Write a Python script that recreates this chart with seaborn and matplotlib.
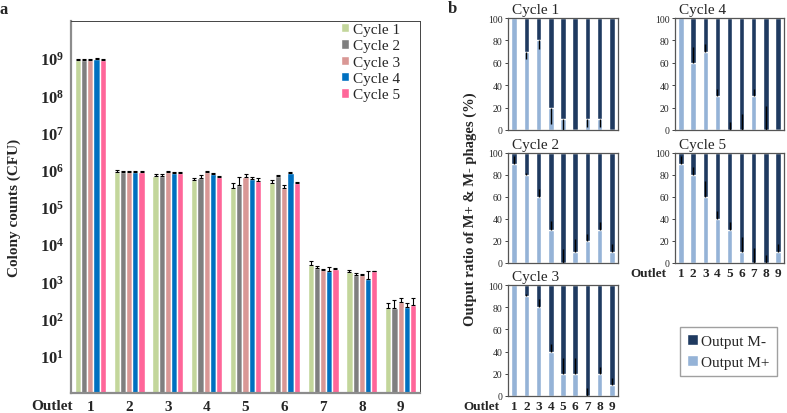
import matplotlib
matplotlib.use('Agg')
import matplotlib.pyplot as plt
import seaborn as sns
import pandas as pd
import numpy as np

sns.set_style('white')
plt.rcParams['font.family'] = ['Liberation Serif', 'DejaVu Serif']
plt.rcParams['mathtext.fontset'] = 'custom'
plt.rcParams['mathtext.rm'] = 'Liberation Serif'
plt.rcParams['mathtext.bf'] = 'Liberation Serif:bold'

# ---- panel a data: colony counts (CFU) per outlet, one list per cycle
outlets = ['1', '2', '3', '4', '5', '6', '7', '8', '9']
cycles = ['Cycle 1', 'Cycle 2', 'Cycle 3', 'Cycle 4', 'Cycle 5']
cycle_colors = ['#c3d69b', '#7f7f7f', '#d99795', '#0070c0', '#ff6699']

cfu_cycle1 = [9.0e8, 9.0e5, 7.0e5, 5.2e5, 3.3e5, 4.5e5, 2.8e3, 1.8e3, 1.9e2]
cfu_cycle2 = [9.0e8, 8.5e5, 6.7e5, 5.9e5, 3.8e5, 6.8e5, 2.3e3, 1.5e3, 1.9e2]
cfu_cycle3 = [9.0e8, 8.5e5, 9.0e5, 8.8e5, 6.5e5, 3.3e5, 2.0e3, 1.5e3, 2.8e2]
cfu_cycle4 = [9.5e8, 9.0e5, 8.0e5, 7.8e5, 5.5e5, 8.0e5, 1.85e3, 1.15e3, 2.1e2]
cfu_cycle5 = [9.2e8, 9.0e5, 8.0e5, 6.5e5, 4.9e5, 4.3e5, 2.1e3, 1.85e3, 2.3e2]

err_cycle1 = [4e7, 6e4, 8e4, 1.0e5, 1.2e5, 8e4, 8e2, 2e2, 7e1]
err_cycle2 = [4e7, 8e4, 8e4, 1.5e5, 2.8e5, 6e4, 3e2, 2e2, 1.3e2]
err_cycle3 = [3e7, 8e4, 5e4, 3e4, 1.2e5, 5e4, 2e2, 1e2, 8e1]
err_cycle4 = [8e7, 5e4, 6e4, 4e4, 1.0e5, 8e4, 6e2, 7e2, 5e1]
err_cycle5 = [4e7, 5e4, 8e4, 5e4, 1.0e5, 5e4, 2e2, 1e2, 1.3e2]

log_exponents = [1, 2, 3, 4, 5, 6, 7, 8, 9]

# ---- panel b data: % of output M+ phages per outlet (M- is the rest)
mplus_cycle1 = [100, 70, 80, 20, 10, 0, 10, 10, 0]
mplus_cycle2 = [90, 80, 60, 30, 0, 10, 20, 30, 10]
mplus_cycle3 = [100, 90, 80, 40, 20, 20, 0, 20, 10]
mplus_cycle4 = [100, 60, 70, 30, 0, 0, 30, 0, 0]
mplus_cycle5 = [90, 80, 60, 40, 30, 10, 0, 0, 10]

# error bar length; cycle 1 bars are drawn downward, the others upward
perr_cycle1 = [0, 7, 8, 15, 10, 0, 7, 7, 0]
perr_cycle2 = [7, 2, 7, 8, 13, 12, 6, 7, 7]
perr_cycle3 = [1, 2, 7, 7, 14, 14, 7, 6, 6]
perr_cycle4 = [1, 14, 7, 7, 7, 14, 7, 21, 0]
perr_cycle5 = [7, 7, 15, 7, 7, 14, 14, 7, 7]

ratio_ticks = [0, 20, 40, 60, 80, 100]
light_blue = '#95b3d7'
dark_blue = '#1f3a60'

W, H = 787, 414
fig = plt.figure(figsize=(W / 100, H / 100), dpi=100)


def px_box(x0, y0, x1, y1):
    # pixel box (top-left origin) -> figure fraction rect
    return [x0 / W, 1 - y1 / H, (x1 - x0) / W, (y1 - y0) / H]


# ================= panel a =================
ax_a = fig.add_axes(px_box(71, 22, 420, 394))
cfu_lists = [cfu_cycle1, cfu_cycle2, cfu_cycle3, cfu_cycle4, cfu_cycle5]
err_lists = [err_cycle1, err_cycle2, err_cycle3, err_cycle4, err_cycle5]
long_df = pd.DataFrame({
    'outlet': outlets * len(cycles),
    'cycle': np.repeat(cycles, len(outlets)),
    'cfu': np.concatenate(cfu_lists),
})
sns.barplot(data=long_df, x='outlet', y='cfu', hue='cycle', order=outlets,
            hue_order=cycles, palette=cycle_colors, saturation=1,
            errorbar=None, width=0.8, ax=ax_a)
ax_a.set_yscale('log')

for container, errs in zip(ax_a.containers, err_lists):
    xs = [b.get_x() + b.get_width() / 2 for b in container]
    ys = [b.get_height() for b in container]
    ax_a.errorbar(xs, ys, yerr=[np.zeros(len(errs)), errs], fmt='none',
                  ecolor='black', elinewidth=0.8, capsize=1.2, capthick=0.8)

ax_a.set_ylim(1, 1e10)
ax_a.set_xlim(-0.5, 8.5)
ax_a.set_yticks([10.0 ** e for e in log_exponents])
ax_a.set_yticklabels([r'$\mathbf{10^{%d}}$' % e for e in log_exponents], fontsize=12)
ax_a.minorticks_off()
ax_a.set_xticks(range(len(outlets)))
ax_a.set_xticklabels(outlets, fontsize=11, fontweight='bold')
ax_a.tick_params(axis='y', length=0, pad=5)
ax_a.tick_params(axis='x', length=0, pad=5)
ax_a.set_xlabel('')
ax_a.set_ylabel('')
for side in ['top', 'right']:
    ax_a.spines[side].set_color('#444444')
    ax_a.spines[side].set_linewidth(0.7)
for side in ['left', 'bottom']:
    ax_a.spines[side].set_color('#8c8c8c')
    ax_a.spines[side].set_linewidth(1.6)

handles, labels = ax_a.get_legend_handles_labels()
ax_a.legend(handles, labels, loc='upper left', bbox_to_anchor=(341 / W, 1 - 24 / H),
            bbox_transform=fig.transFigure, frameon=False, fontsize=11,
            handlelength=0.55, handleheight=0.55, handletextpad=0.25,
            labelspacing=0.22, borderpad=0, borderaxespad=0)

fig.text(73 / W, 1 - 407 / H, 'Outlet', ha='right', va='center',
         fontsize=11, fontweight='bold')
fig.text(14 / W, 1 - 208 / H, 'Colony counts (CFU)', rotation=90, ha='center',
         va='center', fontsize=11, fontweight='bold')
fig.text(4 / W, 1 - 10 / H, 'a', ha='center', va='center', fontsize=12, fontweight='bold')

# ================= panel b =================
col_x = [(508, 618), (675, 784)]
row_y = [(19, 131), (154, 264), (286, 397)]
panels = [
    ('Cycle 1', mplus_cycle1, perr_cycle1, 0, 0),
    ('Cycle 2', mplus_cycle2, perr_cycle2, 0, 1),
    ('Cycle 3', mplus_cycle3, perr_cycle3, 0, 2),
    ('Cycle 4', mplus_cycle4, perr_cycle4, 1, 0),
    ('Cycle 5', mplus_cycle5, perr_cycle5, 1, 1),
]

for title, mplus, perr, col, row in panels:
    x0, x1 = col_x[col]
    y0, y1 = row_y[row]
    ax = fig.add_axes(px_box(x0, y0, x1, y1))
    df = pd.DataFrame({'outlet': outlets, 'm_plus': mplus})
    df['m_minus'] = 100 - df['m_plus']
    df['total'] = df['m_plus'] + df['m_minus']
    sns.barplot(data=df, x='outlet', y='total', color=dark_blue, saturation=1,
                errorbar=None, width=0.45, ax=ax, label='Output M-')
    sns.barplot(data=df, x='outlet', y='m_plus', color=light_blue, saturation=1,
                errorbar=None, width=0.45, ax=ax, label='Output M+')
    xs = [b.get_x() + b.get_width() / 2 for b in ax.containers[1]]
    zeros = np.zeros(len(perr))
    yerr = [perr, zeros] if title == 'Cycle 1' else [zeros, perr]
    ax.errorbar(xs, df['m_plus'], yerr=yerr, fmt='none', ecolor='black',
                elinewidth=1.0)
    ax.set_ylim(0, 100)
    ax.set_xlim(-0.5, 8.5)
    ax.set_yticks(ratio_ticks)
    ax.set_yticklabels([str(t) for t in ratio_ticks], fontsize=7)
    ax.tick_params(axis='y', length=2, width=0.6, pad=2, direction='out', left=True)
    ax.set_xlabel('')
    ax.set_ylabel('')
    if ax.get_legend() is not None:
        ax.get_legend().remove()
    bottom_row = (col == 0 and row == 2) or (col == 1 and row == 1)
    if bottom_row:
        ax.set_xticklabels(outlets, fontsize=9.5, fontweight='bold')
        ax.tick_params(axis='x', length=0, pad=3)
        fig.text((x0 - 9) / W, 1 - (y1 + 10) / H, 'Outlet', ha='right', va='center',
                 fontsize=9.5, fontweight='bold')
    else:
        ax.set_xticklabels([])
        ax.tick_params(axis='x', length=0)
    for side in ax.spines:
        ax.spines[side].set_color('#555555')
        ax.spines[side].set_linewidth(0.9)
    ax.text(0.04, 1.02, title, transform=ax.transAxes, ha='left', va='bottom',
            fontsize=11)
    if title == 'Cycle 1':
        b_handles, b_labels = ax.get_legend_handles_labels()

fig.legend(b_handles, b_labels, loc='center',
           bbox_to_anchor=((677 + 780) / 2 / W, 1 - 352.5 / H),
           bbox_transform=fig.transFigure, fontsize=11, frameon=True,
           fancybox=False, edgecolor='#888888', handlelength=0.7,
           handleheight=0.7, handletextpad=0.2, labelspacing=0.45,
           borderpad=0.5)

fig.text(470 / W, 1 - 209 / H, 'Output ratio of M+ & M- phages (%)', rotation=90,
         ha='center', va='center', fontsize=10.5, fontweight='bold')
fig.text(452 / W, 1 - 9 / H, 'b', ha='center', va='center', fontsize=12, fontweight='bold')

fig.savefig('out.png', dpi=100)
